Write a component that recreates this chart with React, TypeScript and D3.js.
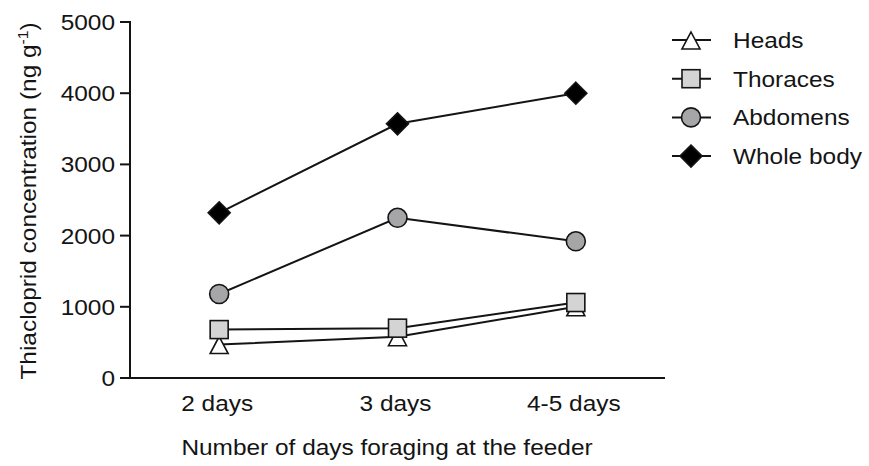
import React from "react";
import * as d3 from "d3";

// Foraging duration categories
const categories = ["2 days", "3 days", "4-5 days"];

// Thiacloprid concentration (ng g-1) per body part
const seriesNames = ["Heads", "Thoraces", "Abdomens", "Whole body"];
const heads = [470, 580, 1000];
const thoraces = [680, 700, 1060];
const abdomens = [1180, 2250, 1920];
const wholeBody = [2320, 3570, 4000];

const yTicks = [0, 1000, 2000, 3000, 4000, 5000];

const W = 869;
const H = 466;
const FONT = "'Liberation Sans', Arial, Helvetica, sans-serif";
const FS = 22;
const SX = 1.11; // horizontal glyph stretch of the typeface
const INK = "#141414";

const left = 130;
const right = 665;
const top = 22;
const bottom = 378;

const x = d3.scaleBand<string>().domain(categories).range([left, right]);
const y = d3.scaleLinear().domain([0, 5000]).range([bottom, top]);
const cx = (c: string) => (x(c) ?? 0) + x.bandwidth() / 2;

type Shape = "triangle" | "square" | "circle" | "diamond";
const series: { name: string; values: number[]; shape: Shape; fill: string }[] = [
  { name: seriesNames[0], values: heads, shape: "triangle", fill: "#ffffff" },
  { name: seriesNames[1], values: thoraces, shape: "square", fill: "#d4d4d4" },
  { name: seriesNames[2], values: abdomens, shape: "circle", fill: "#a6a6a8" },
  { name: seriesNames[3], values: wholeBody, shape: "diamond", fill: "#000000" },
];

function Marker({ shape, fill, px, py }: { shape: Shape; fill: string; px: number; py: number }) {
  const common = { fill, stroke: INK, strokeWidth: 1.6 };
  if (shape === "square") return <rect x={px - 9} y={py - 9} width={18} height={18} {...common} />;
  if (shape === "circle") return <circle cx={px} cy={py} r={9.5} {...common} />;
  if (shape === "diamond")
    return <path d={`M${px},${py - 11}L${px + 11},${py}L${px},${py + 11}L${px - 11},${py}Z`} {...common} />;
  return <path d={`M${px},${py - 8}L${px + 9},${py + 9}L${px - 9},${py + 9}Z`} {...common} />;
}

function SText({
  px,
  py,
  rotate = 0,
  anchor = "start",
  children,
}: {
  px: number;
  py: number;
  rotate?: number;
  anchor?: "start" | "middle" | "end";
  children: React.ReactNode;
}) {
  return (
    <g transform={`translate(${px},${py}) rotate(${rotate}) scale(${SX},1)`}>
      <text textAnchor={anchor} fontFamily={FONT} fontSize={FS} fill={INK}>
        {children}
      </text>
    </g>
  );
}

export default function App() {
  const line = d3
    .line<number>()
    .x((_, i) => cx(categories[i]))
    .y((d) => y(d));

  return (
    <svg
      width={W}
      height={H}
      viewBox={`0 0 ${W} ${H}`}
      style={{ position: "absolute", left: 0, top: 0, background: "#fff" }}
    >
      {/* axes */}
      <line x1={left} x2={left} y1={top - 1} y2={bottom + 1} stroke={INK} strokeWidth={2} />
      <line x1={left - 10} x2={right} y1={bottom} y2={bottom} stroke={INK} strokeWidth={2} />
      {yTicks.map((t) => (
        <g key={t}>
          <line x1={left - 10} x2={left} y1={y(t)} y2={y(t)} stroke={INK} strokeWidth={2} />
          <SText px={left - 15} py={y(t) + 8} anchor="end">
            {t}
          </SText>
        </g>
      ))}
      {categories.map((c) => (
        <SText key={c} px={cx(c) - 2} py={411} anchor="middle">
          {c}
        </SText>
      ))}

      <SText px={387} py={455} anchor="middle">
        Number of days foraging at the feeder
      </SText>
      <SText px={36} py={201} rotate={-90} anchor="middle">
        Thiacloprid concentration (ng g
        <tspan dy={-8} fontSize={14}>
          -1
        </tspan>
        <tspan dy={8}>)</tspan>
      </SText>

      {/* series */}
      {series.map((s) => (
        <g key={s.name}>
          <path d={line(s.values) ?? ""} fill="none" stroke={INK} strokeWidth={2} />
          {s.values.map((v, i) => (
            <Marker key={i} shape={s.shape} fill={s.fill} px={cx(categories[i])} py={y(v)} />
          ))}
        </g>
      ))}

      {/* legend */}
      {series.map((s, i) => {
        const ly = 40 + i * 38.7;
        return (
          <g key={s.name}>
            <line x1={672} x2={711} y1={ly} y2={ly} stroke={INK} strokeWidth={2} />
            <Marker shape={s.shape} fill={s.fill} px={691} py={ly} />
            <SText px={733} py={ly + 8}>
              {s.name}
            </SText>
          </g>
        );
      })}
    </svg>
  );
}
